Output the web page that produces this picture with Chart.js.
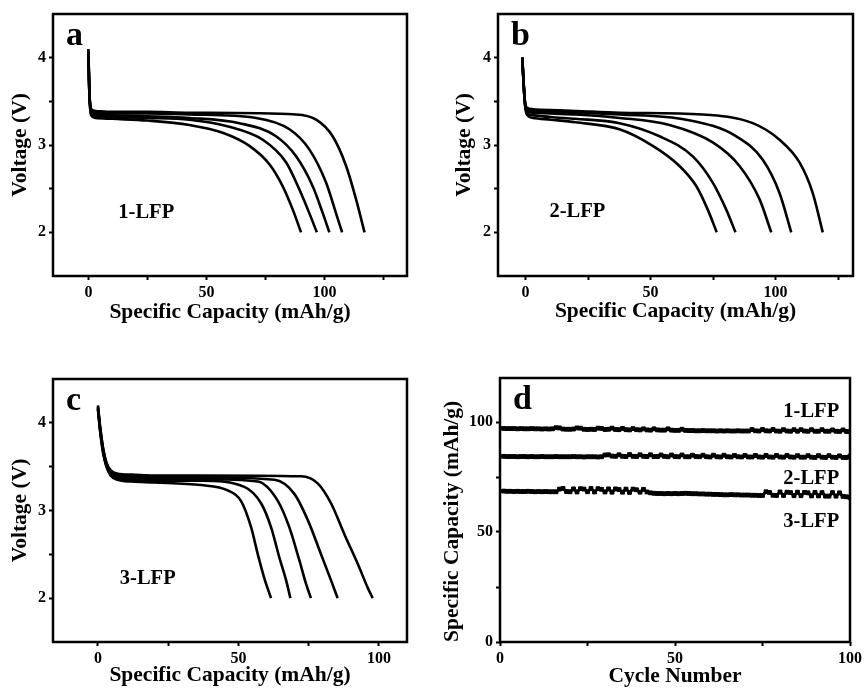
<!DOCTYPE html>
<html lang="en">
<head>
  <meta charset="UTF-8">
  <title>LFP discharge curves and cycling</title>
  <script src="https://cdn.jsdelivr.net/npm/chart.js"></script>
  <style>
    body {
      margin: 0;
      background: #fff;
      width: 865px;
      height: 689px;
      overflow: hidden;
    }
    .panel {
      position: absolute;
    }
  </style>
</head>
<body>
  <div class="panel" style="left:0;top:0;width:432px;height:335px"><canvas id="chart-a"></canvas></div>
  <div class="panel" style="left:432px;top:0;width:433px;height:335px"><canvas id="chart-b"></canvas></div>
  <div class="panel" style="left:0;top:335px;width:432px;height:354px"><canvas id="chart-c"></canvas></div>
  <div class="panel" style="left:432px;top:335px;width:433px;height:354px"><canvas id="chart-d"></canvas></div>

  <script>
    // --- panel a: 1-LFP discharge curves (capacity mAh/g, voltage V)
    const capA = [
      [0, 0.4, 1.2, 3, 10, 25, 42.8, 56.9, 68.2, 76.7, 82.3, 86.6, 90.1],
      [0, 0.4, 1.2, 3, 10, 25, 42.8, 59.7, 73.9, 83.8, 89.4, 93.6, 96.8],
      [0, 0.4, 1.2, 3, 10, 25, 42.8, 64.0, 79.5, 88.0, 95.0, 99.3, 102.1],
      [0, 0.4, 1.2, 3, 10, 25, 42.8, 71.1, 85.2, 93.6, 100.7, 104.9, 107.5],
      [0, 0.4, 1.2, 3, 10, 25, 42.8, 88.0, 96.5, 103.5, 109.2, 113.4, 117.0]
    ];
    const voltA = [
      [4.10, 3.60, 3.34, 3.31, 3.30, 3.28, 3.23, 3.14, 2.99, 2.78, 2.53, 2.26, 2.0],
      [4.08, 3.60, 3.36, 3.33, 3.32, 3.31, 3.29, 3.21, 3.06, 2.80, 2.49, 2.22, 2.0],
      [4.06, 3.60, 3.38, 3.35, 3.34, 3.33, 3.31, 3.25, 3.10, 2.87, 2.53, 2.22, 2.0],
      [4.05, 3.62, 3.39, 3.37, 3.36, 3.36, 3.35, 3.31, 3.18, 2.95, 2.57, 2.22, 2.0],
      [4.03, 3.62, 3.41, 3.39, 3.38, 3.38, 3.37, 3.35, 3.29, 3.10, 2.76, 2.38, 2.0]
    ];

    // --- panel b: 2-LFP
    const capB = [
      [-1.3, -0.3, 0.5, 3, 10, 20, 37.6, 50.9, 61.6, 68.3, 72.9, 76.5],
      [-1.3, -0.3, 0.5, 3, 10, 20, 37.6, 53.6, 66.9, 74.9, 80.3, 84.0],
      [-1.3, -0.3, 0.5, 3, 10, 20, 37.6, 57.6, 74.9, 85.6, 93.6, 98.3],
      [-1.3, -0.3, 0.5, 3, 10, 20, 37.6, 64.3, 84.3, 94.9, 101.6, 106.3],
      [-1.3, -0.3, 0.5, 3, 10, 20, 37.6, 70.9, 90.9, 101.6, 109.6, 114.9, 118.9]
    ];
    const voltB = [
      [4.0, 3.50, 3.35, 3.31, 3.29, 3.26, 3.18, 2.99, 2.76, 2.53, 2.26, 2.0],
      [4.0, 3.50, 3.37, 3.34, 3.32, 3.30, 3.25, 3.10, 2.87, 2.57, 2.26, 2.0],
      [4.0, 3.50, 3.39, 3.37, 3.36, 3.35, 3.31, 3.23, 3.03, 2.76, 2.38, 2.0],
      [4.0, 3.52, 3.41, 3.39, 3.38, 3.37, 3.35, 3.29, 3.10, 2.83, 2.45, 2.0],
      [4.0, 3.52, 3.43, 3.41, 3.40, 3.39, 3.37, 3.35, 3.25, 3.06, 2.80, 2.45, 2.0]
    ];

    // --- panel c: 3-LFP
    const capC = [
      [0, 0.8, 1.8, 3, 4.5, 7, 12, 20, 36.7, 46.2, 50.9, 54.5, 56.9, 59.2, 61.6],
      [0, 0.8, 1.8, 3, 4.5, 7, 12, 20, 36.7, 52.1, 58.1, 61.6, 64.6, 67.0, 68.5],
      [0, 0.8, 1.8, 3, 4.5, 7, 12, 20, 36.7, 56.9, 64.0, 68.1, 71.7, 74.1, 75.8],
      [0, 0.8, 1.8, 3, 4.5, 7, 12, 20, 36.7, 62.8, 69.9, 74.7, 79.4, 83.0, 85.3],
      [0, 0.8, 1.8, 3, 4.5, 7, 12, 20, 36.7, 72.3, 78.2, 83.0, 87.7, 92.5, 96.0, 97.8]
    ];
    const voltC = [
      [4.15, 3.90, 3.66, 3.50, 3.40, 3.35, 3.33, 3.32, 3.29, 3.23, 3.11, 2.81, 2.50, 2.23, 2.0],
      [4.16, 3.91, 3.68, 3.51, 3.42, 3.37, 3.35, 3.34, 3.34, 3.27, 3.08, 2.81, 2.46, 2.20, 2.0],
      [4.17, 3.92, 3.69, 3.53, 3.43, 3.38, 3.37, 3.36, 3.36, 3.33, 3.11, 2.81, 2.43, 2.16, 2.0],
      [4.18, 3.94, 3.71, 3.54, 3.45, 3.40, 3.39, 3.38, 3.38, 3.35, 3.19, 2.89, 2.50, 2.20, 2.0],
      [4.20, 3.95, 3.72, 3.55, 3.46, 3.42, 3.41, 3.40, 3.40, 3.39, 3.31, 3.08, 2.73, 2.39, 2.12, 2.0]
    ];

    // --- panel d: capacity per cycle (cycles 1..100)
    const cap1LFP = [
      97.1, 97.0, 97.0, 97.0, 96.9, 97.0, 96.9, 96.9, 97.0, 96.9, 96.9, 96.8, 96.9, 96.8, 96.9,
      97.4, 97.3, 96.8, 96.7, 96.7,
      96.8, 97.3, 97.2, 96.7, 96.6, 96.7, 96.6, 97.2, 97.1, 96.6,
      96.7, 97.2, 96.6, 96.5, 97.1, 96.5, 96.4, 97.0, 96.5, 96.4,
      96.9, 96.4, 96.3, 96.9, 96.4, 96.3, 96.3, 96.9, 96.3, 96.2,
      96.2, 96.7, 96.2, 96.1, 96.1, 96.0, 96.0, 96.1, 96.0, 96.0,
      96.0, 95.9, 96.0, 95.9, 96.0, 95.9, 95.9, 96.0, 95.9, 95.9,
      95.9, 96.6, 96.0, 95.9, 96.6, 96.0, 95.9, 96.6, 95.9, 95.8,
      96.5, 95.9, 95.8, 96.5, 95.8, 96.5, 95.9, 95.8, 96.5, 95.8,
      95.8, 96.5, 95.8, 95.8, 96.4, 95.8, 95.7, 96.4, 95.7, 95.6
    ];
    const cap2LFP = [
      84.4, 84.3, 84.3, 84.3, 84.2, 84.3, 84.3, 84.2, 84.3, 84.2, 84.2, 84.3, 84.2, 84.2, 84.2,
      84.3, 84.2, 84.2, 84.2, 84.2, 84.3, 84.2, 84.2, 84.1, 84.2, 84.2, 84.2, 84.1, 84.2,
      85.0, 85.1, 84.5, 84.4, 85.1, 84.4, 84.3, 85.2, 84.4, 84.3, 85.1,
      84.4, 84.3, 85.1, 84.3, 84.3, 85.0, 84.4, 84.2, 85.0, 84.3,
      84.2, 85.0, 84.2, 84.2, 84.9, 84.3, 84.2, 84.9, 84.2, 84.1,
      84.9, 84.2, 84.1, 84.9, 84.2, 84.1, 84.8, 84.2, 84.1, 84.8,
      84.1, 84.1, 84.8, 84.1, 84.0, 84.8, 84.1, 84.0, 84.8, 84.1,
      84.0, 84.8, 84.1, 84.0, 84.7, 84.0, 84.0, 84.7, 84.0, 83.9,
      84.7, 84.0, 83.9, 84.7, 84.0, 83.9, 84.6, 83.9, 83.9, 84.5
    ];
    const cap3LFP = [
      68.6, 68.5, 68.5, 68.4, 68.5, 68.4, 68.4, 68.5, 68.4, 68.3, 68.4, 68.3, 68.4, 68.3, 68.3, 68.3,
      69.5, 69.8, 68.4, 68.3, 69.6, 68.2, 69.7, 69.5, 68.3, 69.8, 68.2, 69.7, 69.4, 68.2,
      69.6, 68.1, 69.6, 69.3, 68.1, 69.5, 68.0, 69.5, 69.2, 68.1, 69.4, 68.2, 67.8,
      67.6, 67.5, 67.5, 67.4, 67.5, 67.4, 67.5, 67.4, 67.5, 67.6, 67.5, 67.4, 67.4, 67.3, 67.3,
      67.2, 67.2, 67.1, 67.1, 67.0, 66.9, 66.9, 67.0, 66.9, 66.9, 66.8, 66.8, 66.8, 66.7, 66.7,
      66.6, 66.6,
      68.3, 68.0, 66.7, 66.6, 68.2, 66.6, 68.1, 67.9, 66.5, 68.1, 66.5, 68.0, 67.8, 66.4, 68.0,
      66.4, 67.9, 66.3, 66.3, 67.9, 66.3, 67.8, 66.2, 66.0, 65.6
    ];

    // axis ticks (only some of them carry a label)
    const capTicks = [0, 25, 50, 75, 100, 125];
    const capLabels = [0, 50, 100];
    const voltTicks = [2, 2.5, 3, 3.5, 4];
    const voltLabels = [2, 3, 4];
    const cycleTicks = [0, 25, 50, 75, 100];
    const cycleLabels = [0, 50, 100];
    const specCapTicks = [0, 25, 50, 75, 100];
    const specCapLabels = [0, 50, 100];

    const FONT = '"Liberation Serif", "Times New Roman", serif';

    // frame + panel letter + in-plot labels
    const panelText = {
      id: 'panelText',
      afterDraw(chart, args, opts) {
        const { ctx, chartArea: a, scales } = chart;
        ctx.save();
        ctx.strokeStyle = '#000';
        ctx.lineWidth = 2.5;
        ctx.strokeRect(a.left, a.top, a.right - a.left, a.bottom - a.top);
        ctx.fillStyle = '#000';
        ctx.textBaseline = 'alphabetic';
        ctx.textAlign = 'left';
        ctx.font = 'bold 34px ' + FONT;
        ctx.fillText(opts.letter, a.left + 13, a.top + 31);
        ctx.font = 'bold 20.5px ' + FONT;
        opts.labels.forEach(l => {
          ctx.textAlign = l.align || 'left';
          ctx.fillText(l.text, scales.x.getPixelForValue(l.x), scales.y.getPixelForValue(l.y));
        });
        ctx.restore();
      }
    };

    function makeAxis(o) {
      return {
        type: 'linear',
        position: o.position,
        min: o.min,
        max: o.max,
        afterFit: scale => {
          if (o.position === 'left') scale.width = o.size;
          else scale.height = o.size;
        },
        afterBuildTicks: scale => {
          scale.ticks = o.ticks.filter(v => v >= o.min && v <= o.max)
            .map(v => ({ value: v }));
        },
        border: { display: false },
        grid: {
          display: true,
          drawOnChartArea: false,
          drawTicks: true,
          tickLength: 4,
          tickWidth: 2,
          tickColor: '#000'
        },
        ticks: {
          color: '#000',
          padding: 3,
          maxRotation: 0,
          autoSkip: false,
          font: { family: FONT, size: 16, weight: 'bold' },
          callback: v => (o.labels.includes(v) ? String(v) : '')
        },
        title: {
          display: true,
          text: o.title,
          align: o.titleAlign || 'center',
          color: '#000',
          font: { family: FONT, size: 21.5, weight: 'bold' },
          padding: o.titlePad
        }
      };
    }

    function curvePanel(id, caps, volts, cfg) {
      const datasets = caps.map((c, i) => ({
        data: c.map((x, j) => ({ x: x, y: volts[i][j] })),
        borderColor: '#000',
        borderWidth: 2.6,
        pointRadius: 0,
        cubicInterpolationMode: 'monotone',
        fill: false
      }));
      new Chart(document.getElementById(id), {
        type: 'line',
        data: { datasets },
        options: {
          responsive: true,
          maintainAspectRatio: false,
          animation: false,
          layout: { autoPadding: false, padding: cfg.padding },
          plugins: {
            legend: { display: false },
            tooltip: { enabled: false },
            panelText: { letter: cfg.letter, labels: cfg.labels }
          },
          scales: {
            x: makeAxis({
              position: 'bottom', min: cfg.xMin, max: cfg.xMax, size: cfg.xSize,
              ticks: capTicks, labels: capLabels,
              title: 'Specific Capacity (mAh/g)', titlePad: { top: 0, bottom: 0 }
            }),
            y: makeAxis({
              position: 'left', min: 1.5, max: 4.5, size: cfg.ySize,
              ticks: voltTicks, labels: voltLabels,
              title: 'Voltage (V)', titlePad: { top: cfg.yTitlePad, bottom: 0 }
            })
          }
        },
        plugins: [panelText]
      });
    }

    curvePanel('chart-a', capA, voltA, {
      xMin: -15, xMax: 135, xSize: 49, ySize: 53, yTitlePad: 8,
      padding: { left: 0, top: 14, right: 25, bottom: 10 },
      letter: 'a', labels: [{ text: '1-LFP', x: 12.7, y: 2.16 }]
    });

    curvePanel('chart-b', capB, voltB, {
      xMin: -11, xMax: 131, xSize: 48, ySize: 66, yTitlePad: 20,
      padding: { left: 0, top: 14, right: 12, bottom: 11 },
      letter: 'b', labels: [{ text: '2-LFP', x: 9.6, y: 2.17 }]
    });

    curvePanel('chart-c', capC, voltC, {
      xMin: -16, xMax: 110, xSize: 46, ySize: 53, yTitlePad: 8,
      padding: { left: 0, top: 44, right: 25, bottom: 1 },
      letter: 'c', labels: [{ text: '3-LFP', x: 7.8, y: 2.16 }]
    });

    // panel d: cycling stability
    const cycles = cap1LFP.map((_, i) => i + 1);
    const cycleSeries = [cap1LFP, cap2LFP, cap3LFP];

    new Chart(document.getElementById('chart-d'), {
      type: 'line',
      data: {
        datasets: cycleSeries.map(s => ({
          data: s.map((v, i) => ({ x: cycles[i], y: v })),
          borderColor: '#000',
          borderWidth: 3,
          pointStyle: 'rect',
          pointRadius: 2.7,
          pointBorderWidth: 1,
          pointBackgroundColor: '#000',
          pointBorderColor: '#000',
          tension: 0
        }))
      },
      options: {
        responsive: true,
        maintainAspectRatio: false,
        animation: false,
        layout: { autoPadding: false, padding: { left: 0, top: 43, right: 12, bottom: 0 } },
        plugins: {
          legend: { display: false },
          tooltip: { enabled: false },
          panelText: {
            letter: 'd',
            labels: [
              { text: '1-LFP', x: 96.9, y: 102.3, align: 'right' },
              { text: '2-LFP', x: 96.9, y: 72, align: 'right' },
              { text: '3-LFP', x: 96.9, y: 52.3, align: 'right' }
            ]
          }
        },
        scales: {
          x: makeAxis({
            position: 'bottom', min: 0, max: 100, size: 47,
            ticks: cycleTicks, labels: cycleLabels,
            title: 'Cycle Number', titlePad: { top: 0, bottom: 0 }
          }),
          y: makeAxis({
            position: 'left', min: 0, max: 120, size: 68,
            ticks: specCapTicks, labels: specCapLabels,
            title: 'Specific Capacity (mAh/g)', titleAlign: 'start', titlePad: { top: 8, bottom: 0 }
          })
        }
      },
      plugins: [panelText]
    });
  </script>
</body>
</html>
